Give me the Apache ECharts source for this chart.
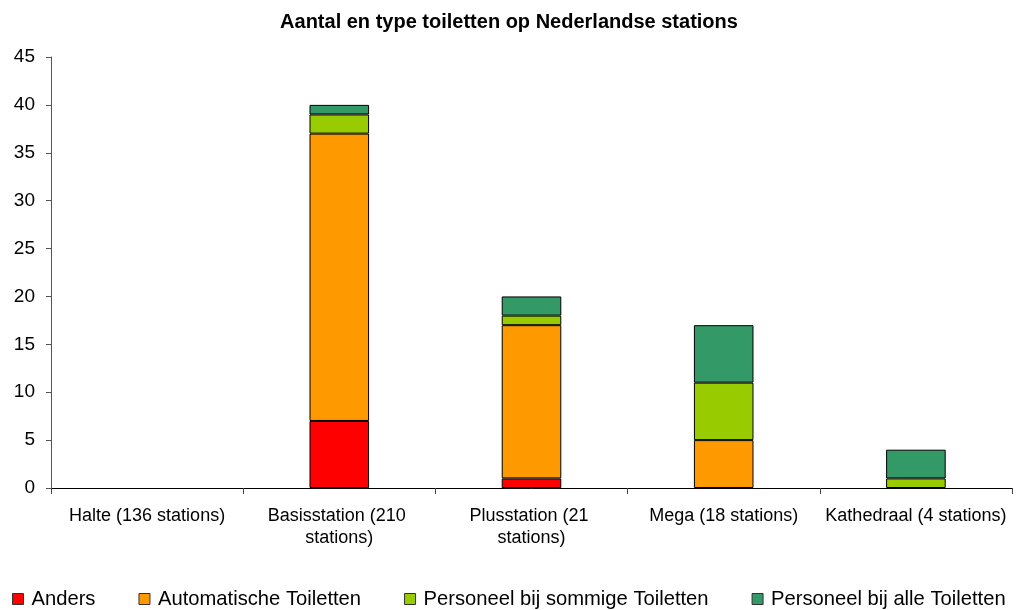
<!DOCTYPE html>
<html>
<head>
<meta charset="utf-8">
<script src="https://cdn.jsdelivr.net/npm/echarts@6/dist/echarts.min.js"></script>
<style>
  html, body { margin: 0; padding: 0; background: #fff; }
  #chart { width: 1018px; height: 610px; }
</style>
</head>
<body>
<div id="chart"></div>
<script>
// categorieen en waarden
const categories = ['Halte (136 stations)', 'Basisstation (210 stations)', 'Plusstation (21 stations)', 'Mega (18 stations)', 'Kathedraal (4 stations)'];
const anders = [0, 7, 1, 0, 0];
const automatisch = [0, 30, 16, 5, 0];
const personeelSommige = [0, 2, 1, 6, 1];
const personeelAlle = [0, 1, 2, 6, 3];

const seriesNames = ['Anders', 'Automatische Toiletten', 'Personeel bij sommige Toiletten', 'Personeel bij alle Toiletten'];
const seriesColors = ['#FF0000', '#FF9900', '#99CC00', '#339966'];
const seriesData = [anders, automatisch, personeelSommige, personeelAlle];

const chart = echarts.init(document.getElementById('chart'));

const font = 'Liberation Sans, Arial, sans-serif';

chart.setOption({
  animation: false,
  title: {
    text: 'Aantal en type toiletten op Nederlandse stations',
    left: 'center',
    top: 7,
    textStyle: { fontFamily: font, fontSize: 20, fontWeight: 'bold', color: '#000' }
  },
  legend: {
    top: 584,
    left: 7,
    width: 1011,
    itemWidth: 11,
    itemHeight: 11,
    itemGap: 43,
    icon: 'rect',
    textStyle: { fontFamily: font, fontSize: 20.2, color: '#000', padding: [0, 0, 0, 3] },
    data: seriesNames.map((n, i) => ({
      name: n,
      itemStyle: { color: seriesColors[i], borderColor: '#333', borderWidth: 1 }
    }))
  },
  grid: { left: 51, right: 6, top: 57, bottom: 122 },
  xAxis: {
    type: 'category',
    data: categories,
    axisLine: { lineStyle: { color: '#000', width: 1 } },
    axisTick: { show: true, interval: 0, length: 6, lineStyle: { color: '#444', width: 1 } },
    axisLabel: {
      fontFamily: font, fontSize: 18, color: '#000',
      margin: 17, width: 185, overflow: 'break', lineHeight: 22, interval: 0
    }
  },
  yAxis: {
    type: 'value',
    min: 0, max: 45, interval: 5,
    splitLine: { show: false },
    axisLine: { show: true, lineStyle: { color: '#555' } },
    axisTick: { show: true, length: 5, lineStyle: { color: '#555' } },
    axisLabel: { fontFamily: font, fontSize: 19, color: '#000', margin: 16 }
  },
  series: seriesData.map((d, i) => ({
    name: seriesNames[i],
    type: 'bar',
    stack: 'totaal',
    barWidth: '31%',
    // lege segmenten niet tekenen
    data: d.map(v => (v === 0 ? '-' : v)),
    itemStyle: { color: seriesColors[i], borderColor: '#000', borderWidth: 1 }
  }))
});
</script>
</body>
</html>
